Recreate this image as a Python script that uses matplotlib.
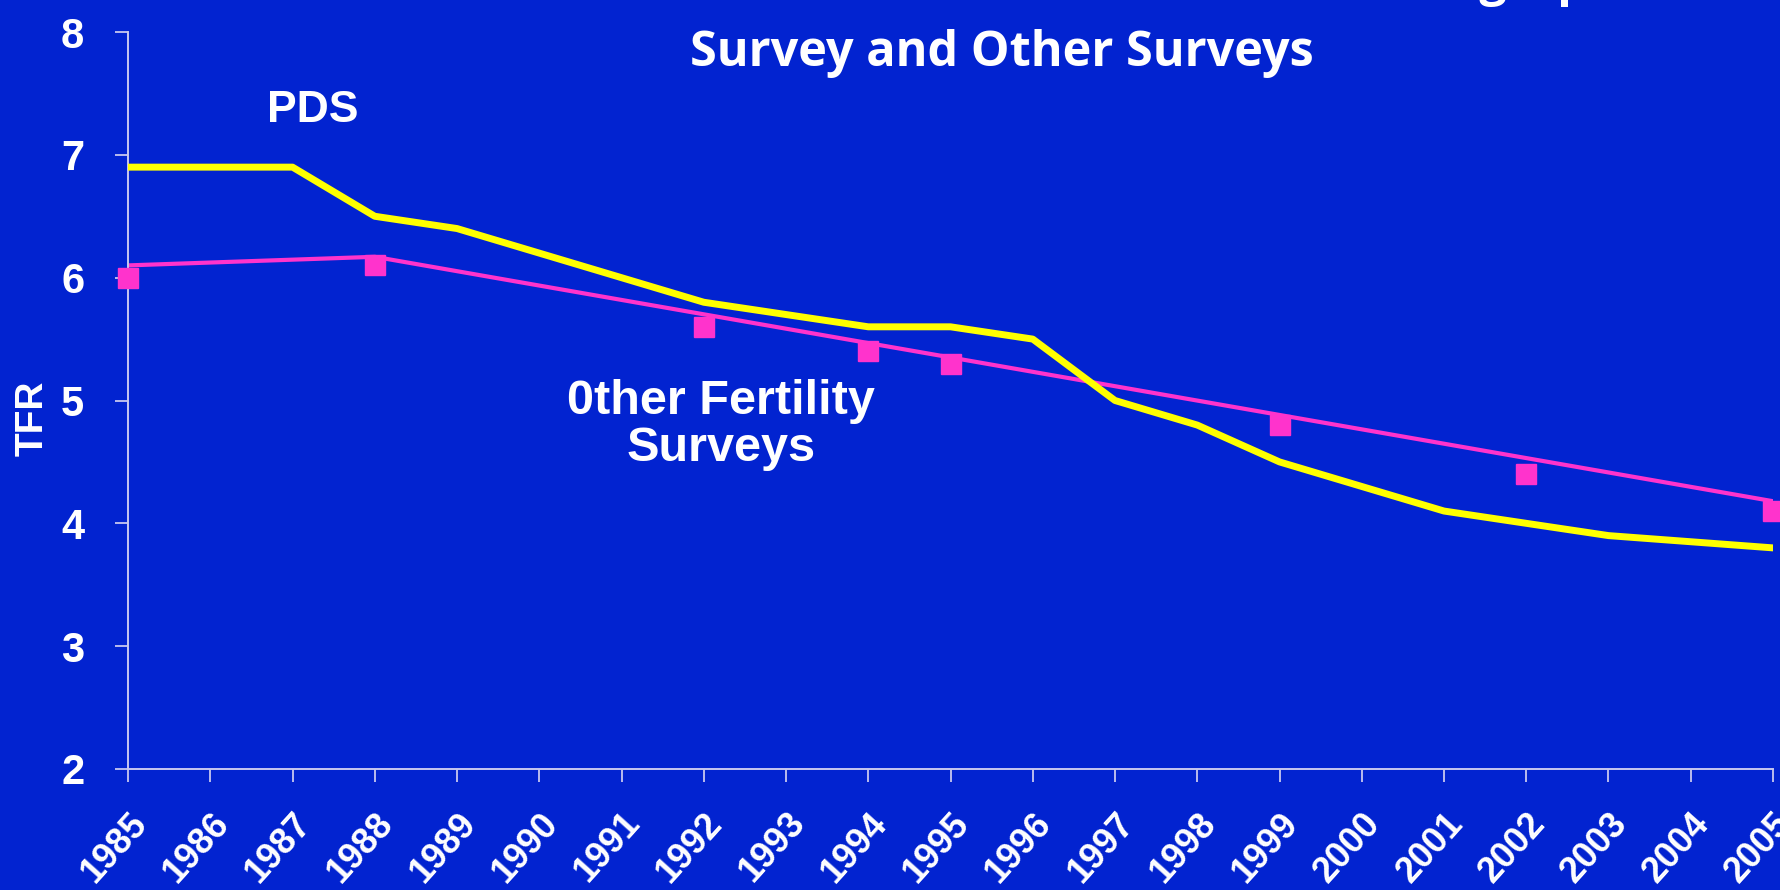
import matplotlib
matplotlib.use("Agg")
import matplotlib.pyplot as plt

years = list(range(1985, 2006))
pds_tfr = [6.9, 6.9, 6.9, 6.5, 6.4, 6.2, 6.0, 5.8, 5.7, 5.6, 5.6, 5.5,
           5.0, 4.8, 4.5, 4.3, 4.1, 4.0, 3.9, 3.85, 3.8]

other_years = [1985, 1988, 1992, 1994, 1995, 1999, 2002, 2005]
other_tfr = [6.0, 6.1, 5.6, 5.4, 5.3, 4.8, 4.4, 4.1]

# trend line drawn through the other surveys
trend_years = [1985, 1988, 2005]
trend_tfr = [6.1, 6.17, 4.18]

bg = '#0223d0'
axis_col = '#c8c8f0'

fig = plt.figure(figsize=(17.81, 8.9), dpi=100, facecolor=bg)
ax = fig.add_axes([0.0719, 0.136, 0.9236, 0.828])
ax.set_facecolor(bg)

ax.plot(years, pds_tfr, color='#ffff00', lw=5, zorder=3)
ax.plot(trend_years, trend_tfr, color='#ff33cc', lw=3.0, zorder=2)
ax.plot(other_years, other_tfr, ls='none', marker='s', ms=14, color='#ff33cc',
        clip_on=False, zorder=4)

ax.set_xlim(1985, 2005)
ax.set_ylim(2, 8)
ax.set_xticks(years)
ax.set_xticklabels([str(y) for y in years], rotation=48, ha='right',
                   rotation_mode='anchor', fontsize=26, fontweight='bold',
                   color='white', family='Liberation Sans')
ax.set_yticks(range(2, 9))
ax.set_yticklabels([str(v) for v in range(2, 9)], fontsize=30, fontweight='bold',
                   color='white', family='Liberation Sans')
ax.tick_params(axis='x', length=9.5, width=1.3, color=axis_col, pad=17)
ax.tick_params(axis='y', length=9.5, width=1.3, color=axis_col, pad=22)
for s in ['top', 'right']:
    ax.spines[s].set_visible(False)
for s in ['left', 'bottom']:
    ax.spines[s].set_color(axis_col)
    ax.spines[s].set_linewidth(1.4)

fig.text(33 / 1781, 1 - 418 / 890, 'TFR', rotation=90, ha='center', va='center',
         fontsize=28, fontweight='bold', color='white', family='Liberation Sans')

fig.text(313 / 1781, 1 - 110 / 890, 'PDS', ha='center', va='center',
         fontsize=32, fontweight='bold', color='white', family='Liberation Sans')
fig.text(721 / 1781, 1 - 425 / 890, '0ther Fertility\nSurveys', ha='center',
         va='center', fontsize=35, fontweight='bold', color='white',
         family='Liberation Sans', linespacing=1.04)

# title: first line is cut off by the top of the slide
fig.text(1660 / 1781, 1 + 5 / 890, 'Trends in TFR Estimates from Pakistan Demographic',
         ha='right', va='baseline', fontsize=35, fontweight='bold', color='white',
         family='Open Sans')
fig.text(1002 / 1781, 1 - 66 / 890, 'Survey and Other Surveys', ha='center',
         va='baseline', fontsize=35, fontweight='bold', color='white',
         family='Open Sans')

fig.savefig('out.png', dpi=100, facecolor=bg)
